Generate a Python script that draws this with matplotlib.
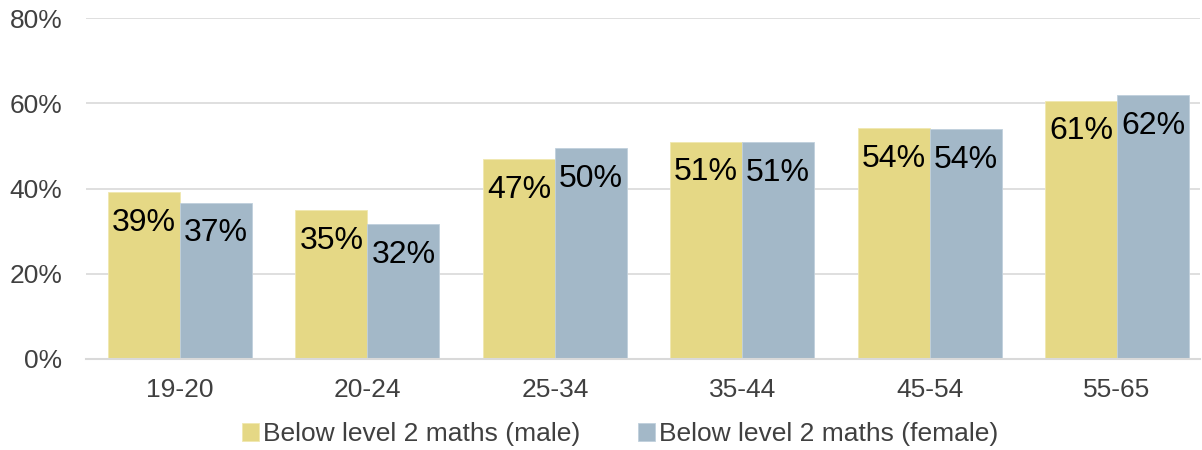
import matplotlib

matplotlib.use("Agg")
import matplotlib.pyplot as plt
import numpy as np

plt.rcParams["font.family"] = ["Liberation Sans", "DejaVu Sans"]

age_groups = ["19-20", "20-24", "25-34", "35-44", "45-54", "55-65"]
male = [39.1, 34.9, 46.9, 51.0, 54.2, 60.6]
female = [36.7, 31.6, 49.5, 50.8, 53.9, 61.9]
male_labels = ["39%", "35%", "47%", "51%", "54%", "61%"]
female_labels = ["37%", "32%", "50%", "51%", "54%", "62%"]
yticks = [0, 20, 40, 60, 80]

MALE_C = "#E5D885"
FEMALE_C = "#A3B8C8"
GRID_C = "#D9D9D9"
TEXT_C = "#404040"

fig = plt.figure(figsize=(12.02, 4.5), dpi=100)
ax = fig.add_axes([86 / 1202, 1 - 359 / 450, (1200 - 86) / 1202, 341 / 450])

x = np.arange(len(age_groups))
w = 72 / 187.4
b1 = ax.bar(x - w / 2, male, w, color=MALE_C, edgecolor="#F0E8B0", lw=0.6,
            label="Below level 2 maths (male)", zorder=2)
b2 = ax.bar(x + w / 2, female, w, color=FEMALE_C, edgecolor="#C0D0DC", lw=0.6,
            label="Below level 2 maths (female)", zorder=2)

for bars, labels in ((b1, male_labels), (b2, female_labels)):
    for rect, lab in zip(bars, labels):
        ax.annotate(lab, (rect.get_x() + rect.get_width() / 2, rect.get_height()),
                    xytext=(0, -22), textcoords="offset points",
                    ha="center", va="center", fontsize=23, color="black")

ax.set_xlim(-0.502, 5.443)
ax.set_ylim(0, 80)
ax.set_yticks(yticks)
ax.set_yticklabels([f"{t}%" for t in yticks])
ax.set_xticks(x)
ax.set_xticklabels(age_groups)
ax.tick_params(axis="y", length=0, pad=17, labelsize=19, labelcolor=TEXT_C)
ax.tick_params(axis="x", length=0, pad=14, labelsize=19, labelcolor=TEXT_C)
ax.grid(axis="y", color=GRID_C, lw=1.2, zorder=0)
for s in ("top", "right", "left"):
    ax.spines[s].set_visible(False)
ax.spines["bottom"].set_color(GRID_C)
ax.spines["bottom"].set_linewidth(1.5)

fig.legend(loc="center", bbox_to_anchor=(620 / 1202, 1 - 434 / 450),
           ncol=2, frameon=False, fontsize=19, handlelength=0.65,
           handleheight=0.65, handletextpad=0.15, columnspacing=2.2,
           labelcolor=TEXT_C)

fig.savefig("out.png", dpi=100)
